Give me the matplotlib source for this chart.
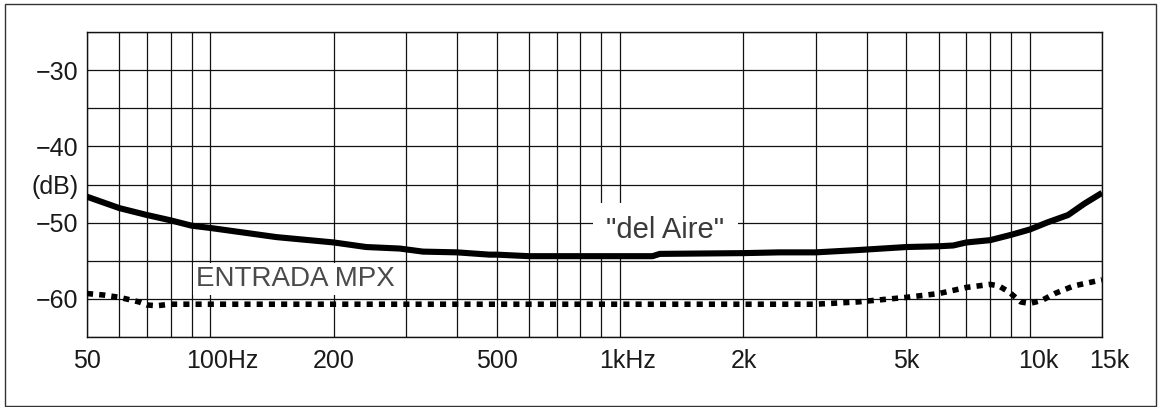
import matplotlib
matplotlib.use("Agg")
import matplotlib.pyplot as plt
import matplotlib.transforms as mtransforms
from matplotlib.patches import Rectangle
from matplotlib.ticker import LogLocator, NullFormatter

plt.rcParams["font.family"] = ["Liberation Sans", "DejaVu Sans"]

# Response measured over the air (solid trace)
aire_freq = [50, 60, 70, 80, 90, 100, 145, 200, 240, 290, 330, 400, 480, 500,
             600, 900, 1200, 1250, 2000, 2450, 3000, 3800, 5000, 6000, 6500,
             7000, 8000, 9000, 10000, 11000, 12400, 13600, 15000]
aire_db = [-46.6, -48.1, -49.0, -49.7, -50.4, -50.7, -51.9, -52.6, -53.2, -53.4,
           -53.8, -53.9, -54.2, -54.2, -54.4, -54.4, -54.4, -54.1, -54.0, -53.9,
           -53.9, -53.6, -53.2, -53.1, -53.0, -52.6, -52.3, -51.6, -50.9, -50.0,
           -49.0, -47.5, -46.1]

# Response at the MPX input (dotted trace)
mpx_freq = [50, 55, 60, 67, 70, 74, 80, 90, 200, 1000, 3000, 3800, 5000, 6000,
            7000, 8000, 8400, 8900, 9500, 10000, 10700, 11500, 12800, 15000]
mpx_db = [-59.3, -59.5, -59.8, -60.4, -60.8, -60.9, -60.7, -60.7, -60.7, -60.7,
          -60.7, -60.4, -59.8, -59.3, -58.5, -58.1, -58.3, -59.1, -60.4, -60.6,
          -60.2, -59.3, -58.3, -57.5]

x_ticks = [50, 100, 200, 500, 1000, 2000, 5000, 10000, 15000]
x_labels = ["50", "100Hz", "200", "500", "1kHz", "2k", "5k", "10k", "15k"]
y_ticks = [-65, -60, -55, -50, -45, -40, -35, -30, -25]
y_labels = ["", "\u221260", "", "\u221250", "(dB)", "\u221240", "", "\u221230", ""]

label_aire = '"del Aire"'
label_mpx = "ENTRADA MPX"

W, H, DPI = 1158, 407, 100
fig = plt.figure(figsize=(W / DPI, H / DPI), dpi=DPI)
fig.patch.set_facecolor("white")

ax = fig.add_axes([87 / W, 1 - 337 / H, (1102 - 87) / W, (337 - 32) / H])
ax.set_xscale("log")
ax.set_xlim(50, 15000)
ax.set_ylim(-65, -25)

ax.set_xticks(x_ticks)
ax.set_xticklabels(x_labels)
ax.xaxis.set_minor_locator(LogLocator(base=10, subs=range(2, 10), numticks=20))
ax.xaxis.set_minor_formatter(NullFormatter())
ax.set_yticks(y_ticks)
ax.set_yticklabels(y_labels)

ax.tick_params(axis="both", which="both", length=0, labelsize=18, colors="#1a1a1a")
ax.tick_params(axis="x", pad=9)
ax.tick_params(axis="y", pad=6)

ax.grid(True, which="both", color="#111111", linewidth=0.9)
ax.set_axisbelow(True)
for s in ax.spines.values():
    s.set_color("#111111")
    s.set_linewidth(1.0)

# Nudge labels that carry a unit so the number sits under its grid line
nudge_px = {"100Hz": 12, "1kHz": 7, "10k": 8, "15k": 7}
for lab in ax.get_xticklabels():
    dx = nudge_px.get(lab.get_text(), 0)
    if dx:
        lab.set_transform(lab.get_transform() +
                          mtransforms.ScaledTranslation(dx / DPI, 0, fig.dpi_scale_trans))

ax.plot(aire_freq, aire_db, color="black", linewidth=4.4,
        solid_capstyle="butt", solid_joinstyle="round", zorder=4)
ax.plot(mpx_freq, mpx_db, color="black", linewidth=4.0,
        linestyle=(0, (1.1, 1.1)), dash_capstyle="butt", zorder=4)

ax.text(1290, -51.0, label_aire, fontsize=21, color="#3a3a3a",
        ha="center", va="center", zorder=3,
        bbox=dict(boxstyle="square,pad=0.45", facecolor="white", edgecolor="none"))
ax.text(161, -57.4, label_mpx, fontsize=20, color="#4a4a4a",
        ha="center", va="center", zorder=3,
        bbox=dict(boxstyle="square,pad=0.1", facecolor="white", edgecolor="none"))

# Outer frame around the whole figure
fig.patches.append(Rectangle((5 / W, 1 - 406 / H), (1156 - 5) / W, (406 - 4) / H,
                             transform=fig.transFigure, fill=False,
                             edgecolor="#333333", linewidth=1.0))

fig.savefig("out.png", dpi=DPI, facecolor="white")
